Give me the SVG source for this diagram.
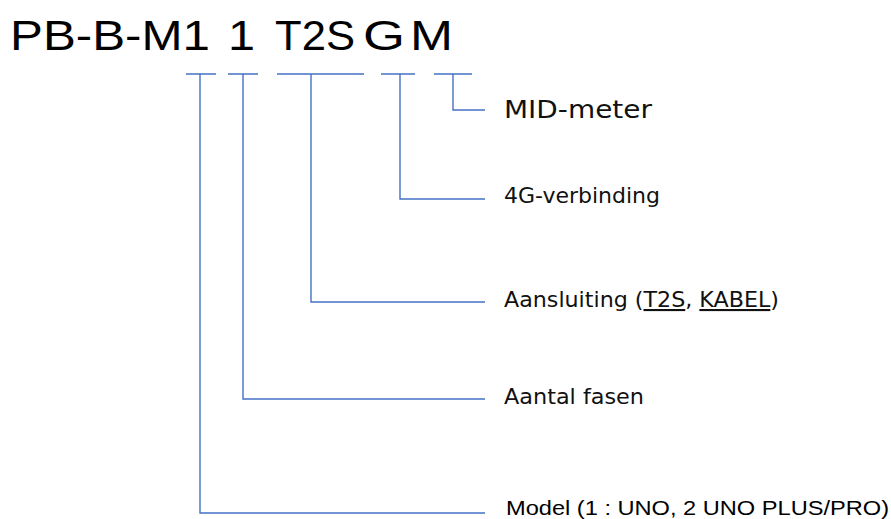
<svg xmlns="http://www.w3.org/2000/svg" width="891" height="519" viewBox="0 0 891 519">
<style>
.t{font-family:"Liberation Sans",Arial,sans-serif;fill:#000}
.lbl{font-family:"DejaVu Sans","Liberation Sans",sans-serif;font-size:21px;fill:#111}
.big{font-size:24px}
.cn{fill:none;stroke:#4472C4;stroke-width:1.4}
.u{text-decoration:underline}
</style>
<rect width="891" height="519" fill="#fff"/>
<g id="title">
<text class="t" font-size="42" y="50"><tspan x="10" textLength="200" lengthAdjust="spacingAndGlyphs">PB-B-M1</tspan><tspan x="228" textLength="27" lengthAdjust="spacingAndGlyphs">1</tspan><tspan x="275" textLength="80" lengthAdjust="spacingAndGlyphs">T2S</tspan><tspan x="363" textLength="42" lengthAdjust="spacingAndGlyphs">G</tspan><tspan x="410" textLength="43" lengthAdjust="spacingAndGlyphs">M</tspan></text>
</g>
<g id="connectors">
<path class="cn" d="M186 74H216M200 74V513H485"/>
<path class="cn" d="M228 74H258M243 74V399H485"/>
<path class="cn" d="M277 74H364M311 74V302H485"/>
<path class="cn" d="M381 74H415M400 74V199H485"/>
<path class="cn" d="M434 74H472M453 74V110H485"/>
</g>
<g id="mid-meter">
<text class="lbl big" x="504" y="118" textLength="148" lengthAdjust="spacingAndGlyphs">MID-meter</text>
</g>
<g id="4g">
<text class="lbl" x="504" y="203" textLength="156" lengthAdjust="spacingAndGlyphs">4G-verbinding</text>
</g>
<g id="aansluiting">
<text class="lbl" x="504" y="307" textLength="275" lengthAdjust="spacingAndGlyphs">Aansluiting (<tspan class="u">T2S</tspan>, <tspan class="u">KABEL</tspan>)</text>
</g>
<g id="fasen">
<text class="lbl" x="504" y="404" textLength="140" lengthAdjust="spacingAndGlyphs">Aantal fasen</text>
</g>
<g id="model">
<text class="t" x="506" y="515" font-size="21" fill="#111" textLength="383" lengthAdjust="spacingAndGlyphs">Model (1 : UNO, 2 UNO PLUS/PRO)</text>
</g>
</svg>
